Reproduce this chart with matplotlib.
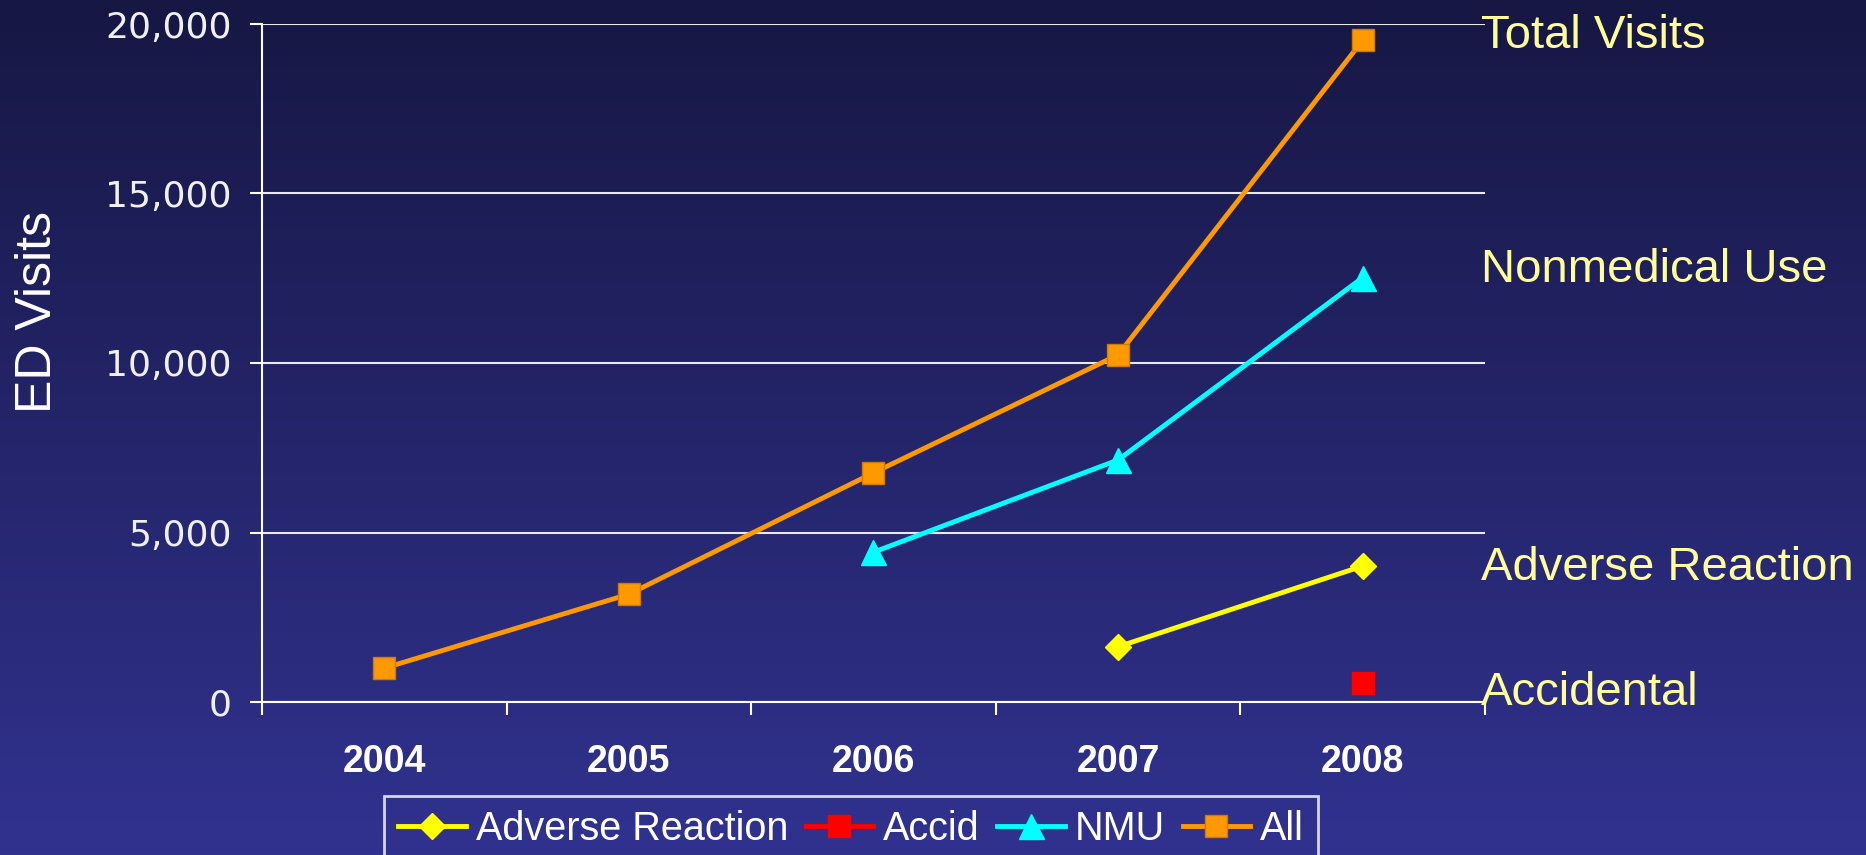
import numpy as np
import matplotlib
matplotlib.use("Agg")
import matplotlib.pyplot as plt
from matplotlib.colors import LinearSegmentedColormap
from matplotlib.ticker import FuncFormatter

# data
years = ["2004", "2005", "2006", "2007", "2008"]
adverse = [np.nan, np.nan, np.nan, 1630, 4010]
accid = [np.nan, np.nan, np.nan, np.nan, 550]
nmu = [np.nan, np.nan, 4420, 7140, 12520]
all_visits = [1000, 3180, 6760, 10240, 19520]

side_labels = ["Total Visits", "Nonmedical Use", "Adverse Reaction", "Accidental"]
side_label_y = [0.944, 0.670, 0.322, 0.175]  # baselines, figure fraction

W, H = 1866, 855
fig = plt.figure(figsize=(W / 100, H / 100), dpi=100)

# slide background gradient
bg = fig.add_axes([0, 0, 1, 1], zorder=-10)
cmap = LinearSegmentedColormap.from_list("slide", ["#171744", "#31328f"])
bg.imshow(np.linspace(0, 1, 256).reshape(-1, 1), aspect="auto", cmap=cmap,
          extent=[0, 1, 0, 1])
bg.set_axis_off()

ax = fig.add_axes([262 / W, 1 - 702 / H, (1485 - 262) / W, (702 - 24) / H])
ax.set_facecolor("none")

x = np.arange(len(years))
ax.plot(x, adverse, color="#ffff00", lw=3.5, marker="D", ms=13,
        label="Adverse Reaction", zorder=3)
ax.plot(x, accid, color="#ff0000", lw=3.5, marker="s", ms=16.5,
        label="Accid", zorder=3)
ax.plot(x, nmu, color="#00ffff", lw=3.5, marker="^", ms=18,
        label="NMU", zorder=3)
ax.plot(x, all_visits, color="#ff9900", lw=3.5, marker="s", ms=16.5,
        mec="#d07a00", mew=1, label="All", zorder=3)

ax.set_xlim(-0.5, len(years) - 0.5)
ax.set_ylim(0, 20000)
ax.set_yticks(np.arange(0, 20001, 5000))
ax.yaxis.set_major_formatter(FuncFormatter(lambda v, p: f"{int(v):,}"))
ax.grid(axis="y", color="#e8e8f0", lw=1.5, zorder=1)
ax.set_axisbelow(True)

# labels at category centres, tick marks on the boundaries
ax.set_xticks(x)
ax.set_xticklabels(years, fontfamily="Liberation Sans", fontweight="bold",
                   fontsize=27, color="white")
ax.set_xticks(np.arange(-0.5, len(years)), minor=True)
ax.tick_params(axis="x", which="major", length=0, pad=30)
ax.tick_params(axis="x", which="minor", length=9, width=1.5,
               direction="out", color="white")
ax.tick_params(axis="y", length=9, width=1.5, color="white", pad=13,
               labelsize=26, labelcolor="#f0f0f0")
for lab in ax.get_yticklabels():
    lab.set_fontfamily("DejaVu Sans")

for side in ["top", "right"]:
    ax.spines[side].set_visible(False)
for side in ["left", "bottom"]:
    ax.spines[side].set_color("white")
    ax.spines[side].set_linewidth(1.5)

ax.set_ylabel("ED Visits", fontfamily="Liberation Sans", fontsize=36,
              color="white")
ax.yaxis.set_label_coords(-0.164, 0.575)

for text, yy in zip(side_labels, side_label_y):
    fig.text(1481 / W, yy, text, fontfamily="Liberation Sans", fontsize=34,
             color="#ffff99", va="baseline", ha="left")

leg = fig.legend(loc="upper center", bbox_to_anchor=(851 / W, 1 - 796 / H),
                 ncol=4, frameon=True, fancybox=False, shadow=False,
                 prop={"family": "Liberation Sans", "size": 28.5},
                 handlelength=1.7, handletextpad=0.25, columnspacing=0.45,
                 borderpad=0.35, borderaxespad=0)
leg.get_frame().set_facecolor("none")
leg.get_frame().set_edgecolor("white")
leg.get_frame().set_linewidth(2)
for t in leg.get_texts():
    t.set_color("white")

fig.savefig("out.png", dpi=100)
